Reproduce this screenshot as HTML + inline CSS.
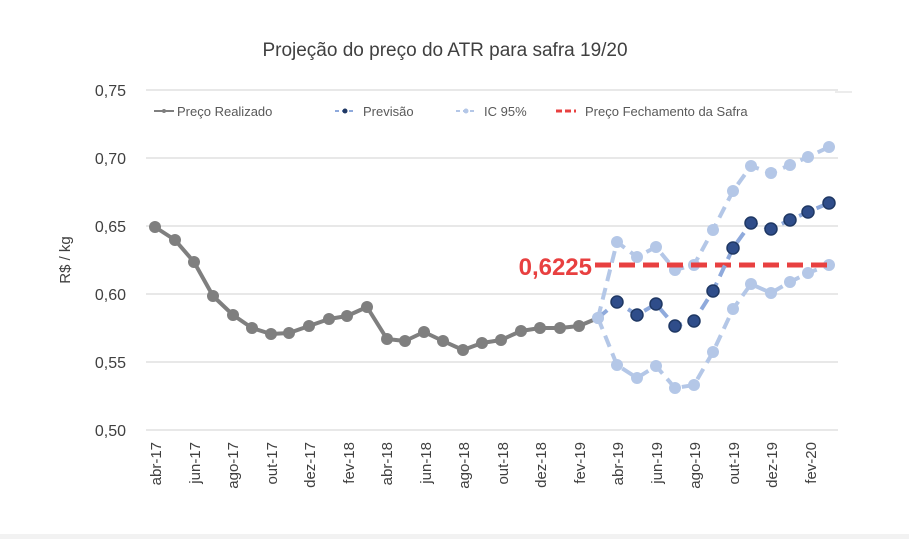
<!DOCTYPE html>
<html><head><meta charset="utf-8"><style>
body{margin:0;background:#fff;}
svg{display:block;font-family:"Liberation Sans",sans-serif;}
</style></head><body>
<svg width="909" height="539" viewBox="0 0 909 539">
<rect width="909" height="539" fill="#fff"/>
<rect x="0" y="534" width="909" height="5" fill="#f2f2f2"/>
<text x="445" y="56" font-size="19" fill="#404040" text-anchor="middle">Projeção do preço do ATR para safra 19/20</text>
<g stroke="#d9d9d9" stroke-width="1.3">
<line x1="146" x2="838" y1="90" y2="90"/><line x1="146" x2="838" y1="158" y2="158"/>
<line x1="146" x2="838" y1="226" y2="226"/><line x1="146" x2="838" y1="294" y2="294"/>
<line x1="146" x2="838" y1="362" y2="362"/><line x1="146" x2="838" y1="430" y2="430"/>
</g>
<g font-size="16" fill="#404040" text-anchor="end">
<text x="126" y="96">0,75</text><text x="126" y="164">0,70</text><text x="126" y="232">0,65</text>
<text x="126" y="300">0,60</text><text x="126" y="368">0,55</text><text x="126" y="436">0,50</text>
</g>
<text transform="translate(70,260) rotate(-90)" font-size="15" fill="#404040" text-anchor="middle">R$ / kg</text>
<!-- legend -->
<g font-size="13" fill="#595959">
<line x1="154" x2="174" y1="111" y2="111" stroke="#7f7f7f" stroke-width="2"/><circle cx="164" cy="111" r="2" fill="#7f7f7f"/>
<text x="177" y="116">Preço Realizado</text>
<line x1="335" x2="356" y1="111" y2="111" stroke="#8faadc" stroke-width="2" stroke-dasharray="4,3"/><circle cx="345" cy="111" r="2.5" fill="#203864"/>
<text x="363" y="116">Previsão</text>
<line x1="456" x2="477" y1="111" y2="111" stroke="#b4c7e7" stroke-width="2" stroke-dasharray="4,3"/><circle cx="466" cy="111" r="2.5" fill="#b4c7e7"/>
<text x="484" y="116">IC 95%</text>
<line x1="556" x2="576" y1="111" y2="111" stroke="#e84040" stroke-width="3" stroke-dasharray="6,3"/>
<text x="585" y="116">Preço Fechamento da Safra</text>
</g>
<line x1="835" x2="852" y1="92" y2="92" stroke="#d9d9d9" stroke-width="1"/>
<!-- IC -->
<g stroke="#b4c7e7" stroke-width="4" stroke-dasharray="12,7" fill="none" stroke-linejoin="round">
<polyline points="598,318 617,242 637,257 656,247 675,270 694,265 713,230 733,191 751,166 771,173 790,165 808,157 829,147"/>
<polyline points="598,318 617,365 637,378 656,366 675,388 694,385 713,352 733,309 751,284 771,293 790,282 808,273 829,265"/>
</g>
<g fill="#b4c7e7">
<circle cx="598" cy="318" r="6"/>
<circle cx="617" cy="242" r="6"/><circle cx="637" cy="257" r="6"/><circle cx="656" cy="247" r="6"/><circle cx="675" cy="270" r="6"/><circle cx="694" cy="265" r="6"/><circle cx="713" cy="230" r="6"/><circle cx="733" cy="191" r="6"/><circle cx="751" cy="166" r="6"/><circle cx="771" cy="173" r="6"/><circle cx="790" cy="165" r="6"/><circle cx="808" cy="157" r="6"/><circle cx="829" cy="147" r="6"/>
<circle cx="617" cy="365" r="6"/><circle cx="637" cy="378" r="6"/><circle cx="656" cy="366" r="6"/><circle cx="675" cy="388" r="6"/><circle cx="694" cy="385" r="6"/><circle cx="713" cy="352" r="6"/><circle cx="733" cy="309" r="6"/><circle cx="751" cy="284" r="6"/><circle cx="771" cy="293" r="6"/><circle cx="790" cy="282" r="6"/><circle cx="808" cy="273" r="6"/><circle cx="829" cy="265" r="6"/>
</g>
<!-- red -->
<line x1="595" x2="831" y1="265" y2="265" stroke="#e84040" stroke-width="5" stroke-dasharray="16,8"/>
<text x="592" y="275" font-size="24" font-weight="bold" fill="#e84040" text-anchor="end">0,6225</text>
<!-- forecast -->
<polyline points="598,318 617,302 637,315 656,304 675,326 694,321 713,291 733,248 751,223 771,229 790,220 808,212 829,203" fill="none" stroke="#8faadc" stroke-width="4" stroke-dasharray="12,7"/>
<g fill="#2f4d8a" stroke="#1f3864" stroke-width="1.5">
<circle cx="617" cy="302" r="6"/><circle cx="637" cy="315" r="6"/><circle cx="656" cy="304" r="6"/><circle cx="675" cy="326" r="6"/><circle cx="694" cy="321" r="6"/><circle cx="713" cy="291" r="6"/><circle cx="733" cy="248" r="6"/><circle cx="751" cy="223" r="6"/><circle cx="771" cy="229" r="6"/><circle cx="790" cy="220" r="6"/><circle cx="808" cy="212" r="6"/><circle cx="829" cy="203" r="6"/>
</g>
<!-- realized -->
<polyline points="155,227 175,240 194,262 213,296 233,315 252,328 271,334 289,333 309,326 329,319 347,316 367,307 387,339 405,341 424,332 443,341 463,350 482,343 501,340 521,331 540,328 560,328 579,326 598,318" fill="none" stroke="#7f7f7f" stroke-width="4" stroke-linejoin="round"/>
<g fill="#7f7f7f">
<circle cx="155" cy="227" r="6"/><circle cx="175" cy="240" r="6"/><circle cx="194" cy="262" r="6"/><circle cx="213" cy="296" r="6"/><circle cx="233" cy="315" r="6"/><circle cx="252" cy="328" r="6"/><circle cx="271" cy="334" r="6"/><circle cx="289" cy="333" r="6"/><circle cx="309" cy="326" r="6"/><circle cx="329" cy="319" r="6"/><circle cx="347" cy="316" r="6"/><circle cx="367" cy="307" r="6"/><circle cx="387" cy="339" r="6"/><circle cx="405" cy="341" r="6"/><circle cx="424" cy="332" r="6"/><circle cx="443" cy="341" r="6"/><circle cx="463" cy="350" r="6"/><circle cx="482" cy="343" r="6"/><circle cx="501" cy="340" r="6"/><circle cx="521" cy="331" r="6"/><circle cx="540" cy="328" r="6"/><circle cx="560" cy="328" r="6"/><circle cx="579" cy="326" r="6"/>
</g>
<circle cx="598" cy="318" r="6" fill="#b4c7e7"/>
<!-- x labels -->
<g font-size="15" fill="#404040" text-anchor="end">
<text transform="translate(161,442) rotate(-90)">abr-17</text>
<text transform="translate(200,442) rotate(-90)">jun-17</text>
<text transform="translate(238,442) rotate(-90)">ago-17</text>
<text transform="translate(277,442) rotate(-90)">out-17</text>
<text transform="translate(315,442) rotate(-90)">dez-17</text>
<text transform="translate(354,442) rotate(-90)">fev-18</text>
<text transform="translate(392,442) rotate(-90)">abr-18</text>
<text transform="translate(431,442) rotate(-90)">jun-18</text>
<text transform="translate(469,442) rotate(-90)">ago-18</text>
<text transform="translate(508,442) rotate(-90)">out-18</text>
<text transform="translate(546,442) rotate(-90)">dez-18</text>
<text transform="translate(585,442) rotate(-90)">fev-19</text>
<text transform="translate(623,442) rotate(-90)">abr-19</text>
<text transform="translate(662,442) rotate(-90)">jun-19</text>
<text transform="translate(700,442) rotate(-90)">ago-19</text>
<text transform="translate(739,442) rotate(-90)">out-19</text>
<text transform="translate(777,442) rotate(-90)">dez-19</text>
<text transform="translate(816,442) rotate(-90)">fev-20</text>
</g>
</svg>
</body></html>
